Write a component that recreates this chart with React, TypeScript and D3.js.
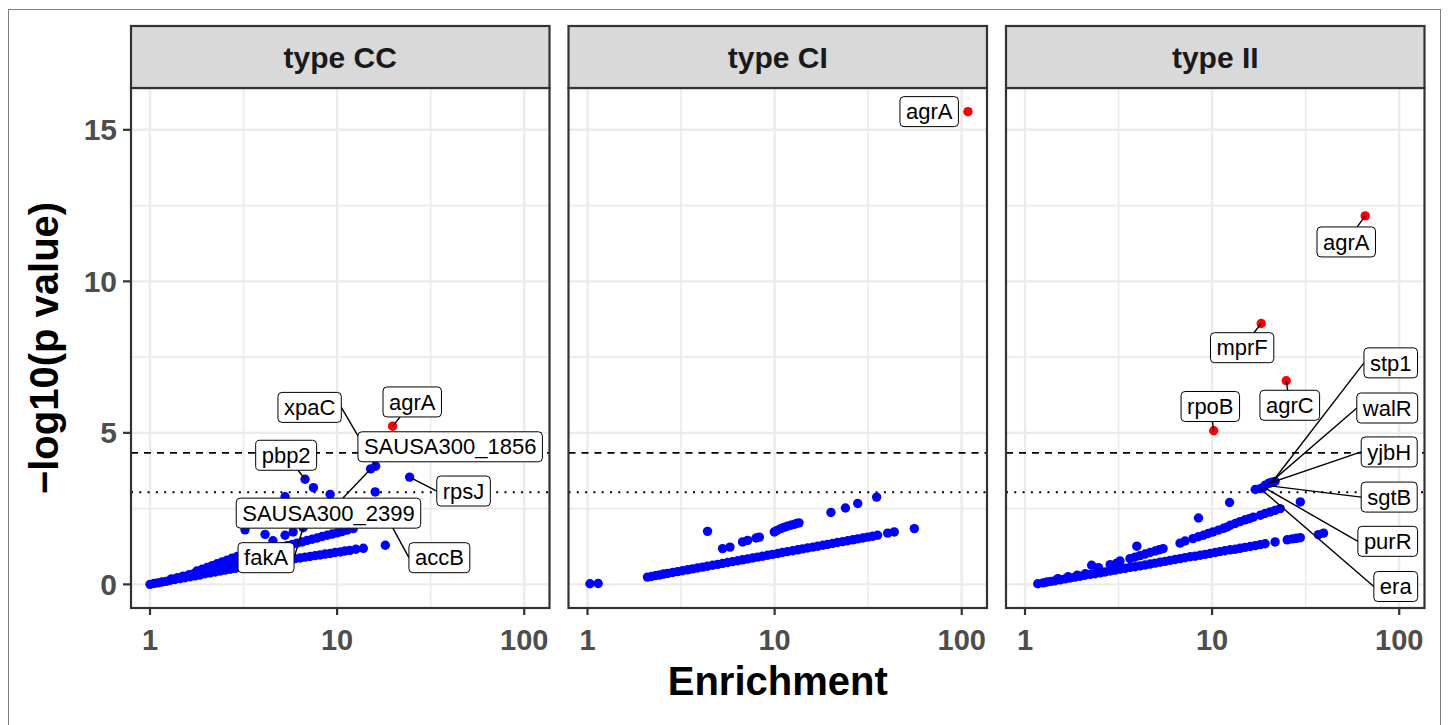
import React, { useMemo } from "react";
import * as d3 from "d3";

type Pt = [number, number];
type Lab = { name: string; lx: number; ly: number; px: number; py: number; seg: boolean };

const facetNames = ["type CC", "type CI", "type II"];

const ccBlue: Pt[] = [
  [1.0, 0.0], [1.05, 0.03], [1.1, 0.05], [1.16, 0.08], [1.22, 0.1], [1.28, 0.13], [1.36, 0.16], [1.45, 0.19],
  [1.54, 0.22], [1.64, 0.25], [1.74, 0.28], [1.85, 0.31], [1.97, 0.35], [2.09, 0.38], [2.23, 0.41], [2.37, 0.44],
  [2.52, 0.47], [2.68, 0.5], [2.85, 0.53], [3.03, 0.56], [3.22, 0.59], [3.43, 0.61], [3.64, 0.64], [3.87, 0.67],
  [4.12, 0.69], [4.38, 0.72], [4.66, 0.74], [4.96, 0.77], [5.27, 0.79], [5.61, 0.82], [5.96, 0.85], [6.34, 0.87],
  [6.74, 0.9], [7.17, 0.92], [7.63, 0.95], [8.11, 0.97], [8.63, 1.0], [9.18, 1.02], [9.76, 1.05], [10.4, 1.07],
  [11.0, 1.1], [11.7, 1.12], [12.6, 1.16], [13.8, 1.19], [18.1, 1.29],
  [1.78, 0.44], [1.9, 0.5], [2.02, 0.56], [2.15, 0.62], [2.28, 0.68], [2.43, 0.74], [2.58, 0.8], [2.74, 0.86],
  [2.92, 0.92], [3.1, 0.94], [3.3, 0.96], [3.51, 0.99], [3.73, 1.02], [3.97, 1.07], [4.22, 1.11], [4.49, 1.15],
  [4.78, 1.19], [5.08, 1.24], [5.4, 1.28], [5.75, 1.32], [6.11, 1.36], [6.5, 1.4], [6.91, 1.45], [7.35, 1.49],
  [7.82, 1.53], [8.32, 1.58], [8.85, 1.62], [9.41, 1.66], [10.0, 1.7], [10.6, 1.74], [11.3, 1.79], [12.2, 1.84],
  [1.3, 0.18], [1.4, 0.22], [1.5, 0.27], [1.62, 0.32], [1.72, 0.36], [1.83, 0.38], [1.95, 0.43], [2.06, 0.46],
  [2.2, 0.5], [2.34, 0.54], [2.48, 0.59], [2.63, 0.62], [2.8, 0.67], [2.97, 0.71], [1.9, 0.38], [2.1, 0.52],
  [2.3, 0.6], [2.5, 0.66], [2.7, 0.74], [2.9, 0.8], [3.1, 0.78], [3.3, 0.84],
  [3.22, 1.8], [4.12, 1.65], [4.54, 1.44], [5.27, 1.62], [5.82, 1.73], [6.58, 1.87], [5.27, 2.89], [7.47, 3.19],
  [9.18, 2.97], [15.97, 3.05], [6.74, 3.47], [15.1, 3.81], [16.07, 3.9], [24.4, 3.54], [15.4, 4.2], [17.4, 2.51],
];
const ccRed: Pt[] = [[19.8, 5.22]];

const ciBlue: Pt[] = [
  [1.03, 0.02], [1.14, 0.03],
  [2.09, 0.24], [2.2, 0.26], [2.31, 0.29], [2.43, 0.31], [2.55, 0.34], [2.68, 0.36], [2.85, 0.39], [3.03, 0.42],
  [3.22, 0.45], [3.43, 0.48], [3.64, 0.51], [3.87, 0.54], [4.12, 0.57], [4.38, 0.6], [4.66, 0.63], [4.96, 0.66],
  [5.27, 0.69], [5.61, 0.72], [5.96, 0.75], [6.34, 0.78], [6.74, 0.81], [7.17, 0.84], [7.63, 0.87], [8.11, 0.9],
  [8.63, 0.93], [9.18, 0.96], [9.76, 0.99], [10.4, 1.02], [11.0, 1.05], [11.7, 1.08], [12.5, 1.11], [13.3, 1.14],
  [14.1, 1.17], [15.0, 1.2], [16.0, 1.23], [17.0, 1.26], [18.1, 1.29], [19.2, 1.32], [20.4, 1.35], [21.7, 1.38],
  [23.1, 1.41], [24.6, 1.44], [26.2, 1.47], [27.8, 1.5], [29.6, 1.53], [31.4, 1.56], [33.4, 1.59], [35.5, 1.62],
  [40.2, 1.69], [43.6, 1.73], [55.8, 1.84],
  [4.38, 1.75], [5.27, 1.18], [5.77, 1.23], [6.74, 1.4], [7.17, 1.45], [7.95, 1.53], [8.29, 1.56], [9.96, 1.73],
  [10.3, 1.78], [10.8, 1.84], [11.2, 1.88], [11.7, 1.92], [12.2, 1.95], [12.7, 1.98], [13.1, 2.01], [13.5, 2.03],
  [20.0, 2.37], [23.9, 2.52], [27.8, 2.67], [35.1, 2.88],
];
const ciRed: Pt[] = [[108, 15.6]];

const iiBlue: Pt[] = [
  [1.17, 0.02], [1.25, 0.05], [1.31, 0.08], [1.38, 0.1], [1.45, 0.12], [1.54, 0.15], [1.64, 0.18], [1.74, 0.21],
  [1.85, 0.24], [1.97, 0.27], [2.09, 0.3], [2.23, 0.33], [2.37, 0.35], [2.52, 0.38], [2.68, 0.41], [2.85, 0.44],
  [3.03, 0.47], [3.22, 0.5], [3.43, 0.53], [3.64, 0.56], [3.87, 0.58], [4.12, 0.61], [4.38, 0.64], [4.66, 0.67],
  [4.96, 0.7], [5.27, 0.73], [5.61, 0.76], [5.96, 0.79], [6.34, 0.82], [6.74, 0.85], [7.17, 0.88], [7.63, 0.91],
  [8.11, 0.93], [8.63, 0.96], [9.18, 0.99], [9.76, 1.02], [10.4, 1.05], [11.0, 1.08], [11.7, 1.11], [12.5, 1.14],
  [13.3, 1.16], [14.1, 1.19], [15.0, 1.22], [16.0, 1.25], [17.0, 1.28], [18.1, 1.31], [19.2, 1.34], [21.7, 1.4],
  [25.2, 1.47], [26.8, 1.5], [28.2, 1.52], [29.6, 1.54], [37.0, 1.64], [39.4, 1.69],
  [1.5, 0.19], [1.7, 0.25], [1.9, 0.3], [2.1, 0.35],
  [2.27, 0.63], [2.47, 0.55], [2.85, 0.65], [3.09, 0.7], [3.22, 0.77], [3.64, 0.85], [3.87, 0.9], [4.12, 0.95],
  [4.38, 1.0], [4.66, 1.05], [4.96, 1.1], [5.21, 1.14], [5.47, 1.18], [3.96, 1.26],
  [6.74, 1.36], [7.17, 1.43], [7.9, 1.51], [8.44, 1.57], [8.98, 1.62], [9.52, 1.68], [10.1, 1.73], [10.8, 1.79],
  [11.5, 1.85], [12.0, 1.89], [12.5, 1.95], [13.3, 2.01], [14.1, 2.07], [15.0, 2.13], [15.8, 2.17], [16.6, 2.22],
  [18.1, 2.28], [19.2, 2.34], [20.4, 2.39], [21.7, 2.44], [23.1, 2.5],
  [8.46, 2.19], [12.4, 2.7], [29.6, 2.72],
  [17.0, 3.13], [20.9, 3.37], [20.4, 3.35], [20.0, 3.33], [19.2, 3.27], [18.8, 3.21], [18.1, 3.16], [21.7, 3.4],
];
const iiRed: Pt[] = [[65.8, 12.16], [18.3, 8.61], [24.9, 6.72], [10.2, 5.07]];

const ccLabels: Lab[] = [
  { name: "agrA", lx: 25.2, ly: 6.02, px: 19.8, py: 5.22, seg: true },
  { name: "xpaC", lx: 7.13, ly: 5.84, px: 16.07, py: 3.9, seg: true },
  { name: "SAUSA300_1856", lx: 40.2, ly: 4.54, px: 15.4, py: 4.2, seg: false },
  { name: "pbp2", lx: 5.34, ly: 4.26, px: 6.74, py: 3.47, seg: true },
  { name: "SAUSA300_2399", lx: 8.99, ly: 2.35, px: 15.1, py: 3.81, seg: true },
  { name: "rpsJ", lx: 47.4, ly: 3.08, px: 24.4, py: 3.54, seg: true },
  { name: "fakA", lx: 4.17, ly: 0.88, px: 6.58, py: 1.87, seg: true },
  { name: "accB", lx: 35.2, ly: 0.88, px: 17.4, py: 2.51, seg: true },
];
const ciLabels: Lab[] = [{ name: "agrA", lx: 67.0, ly: 15.6, px: 108, py: 15.6, seg: false }];
const iiLabels: Lab[] = [
  { name: "agrA", lx: 52.1, ly: 11.3, px: 65.8, py: 12.16, seg: true },
  { name: "mprF", lx: 14.47, ly: 7.81, px: 18.3, py: 8.61, seg: true },
  { name: "rpoB", lx: 9.78, ly: 5.87, px: 10.2, py: 5.07, seg: true },
  { name: "agrC", lx: 26.0, ly: 5.91, px: 24.9, py: 6.72, seg: true },
  { name: "stp1", lx: 90.1, ly: 7.31, px: 20.9, py: 3.37, seg: true },
  { name: "walR", lx: 86.3, ly: 5.82, px: 20.4, py: 3.35, seg: true },
  { name: "yjbH", lx: 88.4, ly: 4.37, px: 20.0, py: 3.33, seg: true },
  { name: "sgtB", lx: 88.4, ly: 2.88, px: 19.2, py: 3.27, seg: true },
  { name: "purR", lx: 86.8, ly: 1.42, px: 18.8, py: 3.21, seg: true },
  { name: "era", lx: 95.8, ly: -0.07, px: 18.1, py: 3.16, seg: true },
];

const xTicks = [1, 10, 100];
const yTicks = [0, 5, 10, 15];
const bonferroniLine = 4.34;
const suggestiveLine = 3.04;

const blueSets = [ccBlue, ciBlue, iiBlue];
const redSets = [ccRed, ciRed, iiRed];
const labelSets = [ccLabels, ciLabels, iiLabels];

const FONT = "'Liberation Sans', Arial, Helvetica, sans-serif";

export default function App() {
  const W = 1448, H = 725;
  const left0 = 131, pw = 418.5, gap = 19;
  const top = 88, bottom = 608, stripTop = 26;
  const labelFont = 22;

  const allPts = [...ccBlue, ...ciBlue, ...iiBlue, ...ccRed, ...ciRed, ...iiRed];
  const [xmin, xmax] = d3.extent(allPts, (d) => Math.log10(d[0])) as [number, number];
  const [ymin, ymax] = d3.extent(allPts, (d) => d[1]) as [number, number];
  const xpad = (xmax - xmin) * 0.05;
  const ypad = (ymax - ymin) * 0.05;
  const yScale = d3.scaleLinear().domain([ymin - ypad, ymax + ypad]).range([bottom, top]);

  const measure = useMemo(() => {
    const c = document.createElement("canvas").getContext("2d")!;
    c.font = `${labelFont}px ${FONT}`;
    return (s: string) => c.measureText(s).width;
  }, []);

  const xMinor = [Math.sqrt(10), Math.sqrt(1000)];
  const yMinor = [2.5, 7.5, 12.5];

  return (
    <svg width={W} height={H} style={{ position: "absolute", left: 0, top: 0 }} fontFamily={FONT}>
      <rect x={0} y={0} width={W} height={H} fill="#fff" />
      <rect x={8.5} y={9.5} width={1432} height={800} fill="none" stroke="#808080" strokeWidth={1} />
      <defs>
        {facetNames.map((_, i) => (
          <clipPath id={`clip${i}`} key={i}>
            <rect x={left0 + i * (pw + gap)} y={top} width={pw} height={bottom - top} />
          </clipPath>
        ))}
      </defs>
      {facetNames.map((name, i) => {
        const L = left0 + i * (pw + gap);
        const xScale = d3
          .scaleLog()
          .domain([Math.pow(10, xmin - xpad), Math.pow(10, xmax + xpad)])
          .range([L, L + pw]);
        const labs = labelSets[i].map((lb) => {
          const w = measure(lb.name) + 12;
          const h = 30;
          const cx = xScale(lb.lx), cy = yScale(lb.ly);
          const tx = xScale(lb.px), ty = yScale(lb.py);
          const x1 = cx - w / 2, x2 = cx + w / 2, y1 = cy - h / 2, y2 = cy + h / 2;
          let sx: number, sy: number;
          if (tx < x1) { sx = x1; sy = cy; }
          else if (tx > x2) { sx = x2; sy = cy; }
          else {
            sy = ty < cy ? y1 : y2;
            const t = (sy - cy) / (ty - cy);
            sx = cx + (tx - cx) * t;
          }
          return { ...lb, w, h, cx, cy, tx, ty, sx, sy };
        });
        return (
          <g key={name}>
            <rect x={L} y={top} width={pw} height={bottom - top} fill="#fff" />
            <g stroke="#EBEBEB">
              {xMinor.map((v) => (
                <line key={`xm${v}`} x1={xScale(v)} x2={xScale(v)} y1={top} y2={bottom} strokeWidth={1.6} />
              ))}
              {yMinor.map((v) => (
                <line key={`ym${v}`} x1={L} x2={L + pw} y1={yScale(v)} y2={yScale(v)} strokeWidth={1.6} />
              ))}
              {xTicks.map((v) => (
                <line key={`x${v}`} x1={xScale(v)} x2={xScale(v)} y1={top} y2={bottom} strokeWidth={2.4} />
              ))}
              {yTicks.map((v) => (
                <line key={`y${v}`} x1={L} x2={L + pw} y1={yScale(v)} y2={yScale(v)} strokeWidth={2.4} />
              ))}
            </g>
            <g clipPath={`url(#clip${i})`}>
              <line x1={L} x2={L + pw} y1={yScale(bonferroniLine)} y2={yScale(bonferroniLine)}
                stroke="#000" strokeWidth={1.6} strokeDasharray="7,6" />
              <line x1={L} x2={L + pw} y1={yScale(suggestiveLine)} y2={yScale(suggestiveLine)}
                stroke="#000" strokeWidth={1.8} strokeDasharray="2,6.3" />
              {blueSets[i].map((d, k) => (
                <circle key={`b${k}`} cx={xScale(d[0])} cy={yScale(d[1])} r={4.7} fill="#0000FF" />
              ))}
              {redSets[i].map((d, k) => (
                <circle key={`r${k}`} cx={xScale(d[0])} cy={yScale(d[1])} r={4.7} fill="#FF0000" />
              ))}
              {labs.filter((l) => l.seg).map((l) => (
                <line key={`s${l.name}`} x1={l.sx} y1={l.sy} x2={l.tx} y2={l.ty} stroke="#000" strokeWidth={1.4} />
              ))}
              {labs.map((l) => (
                <g key={`l${l.name}`}>
                  <rect x={l.cx - l.w / 2} y={l.cy - l.h / 2} width={l.w} height={l.h} rx={4} ry={4}
                    fill="#fff" stroke="#000" strokeWidth={1} />
                  <text x={l.cx} y={l.cy + labelFont * 0.35} textAnchor="middle" fontSize={labelFont} fill="#000">
                    {l.name}
                  </text>
                </g>
              ))}
            </g>
            <rect x={L} y={top} width={pw} height={bottom - top} fill="none" stroke="#333" strokeWidth={2.2} />
            <rect x={L} y={stripTop} width={pw} height={top - stripTop} fill="#D9D9D9" stroke="#333" strokeWidth={2.2} />
            <text x={L + pw / 2} y={(stripTop + top) / 2 + 10.5} textAnchor="middle" fontSize={30}
              fontWeight="bold" fill="#1A1A1A">{name}</text>
            {xTicks.map((v) => (
              <g key={`xt${v}`}>
                <line x1={xScale(v)} x2={xScale(v)} y1={bottom} y2={bottom + 7} stroke="#333" strokeWidth={2.2} />
                <text x={xScale(v)} y={bottom + 42} textAnchor="middle" fontSize={29} fontWeight="bold" fill="#4D4D4D">
                  {v}
                </text>
              </g>
            ))}
          </g>
        );
      })}
      {yTicks.map((v) => (
        <g key={`yt${v}`}>
          <line x1={left0 - 8} x2={left0} y1={yScale(v)} y2={yScale(v)} stroke="#333" strokeWidth={2.2} />
          <text x={left0 - 14} y={yScale(v) + 10.5} textAnchor="end" fontSize={30} fontWeight="bold" fill="#4D4D4D">
            {v}
          </text>
        </g>
      ))}
      <text x={left0 + pw + gap + pw / 2} y={695} textAnchor="middle" fontSize={40} fontWeight="bold" fill="#000">
        Enrichment
      </text>
      <text transform={`translate(58,${(top + bottom) / 2}) rotate(-90)`} textAnchor="middle" fontSize={40}
        fontWeight="bold" fill="#000">
        −log10(p value)
      </text>
    </svg>
  );
}
